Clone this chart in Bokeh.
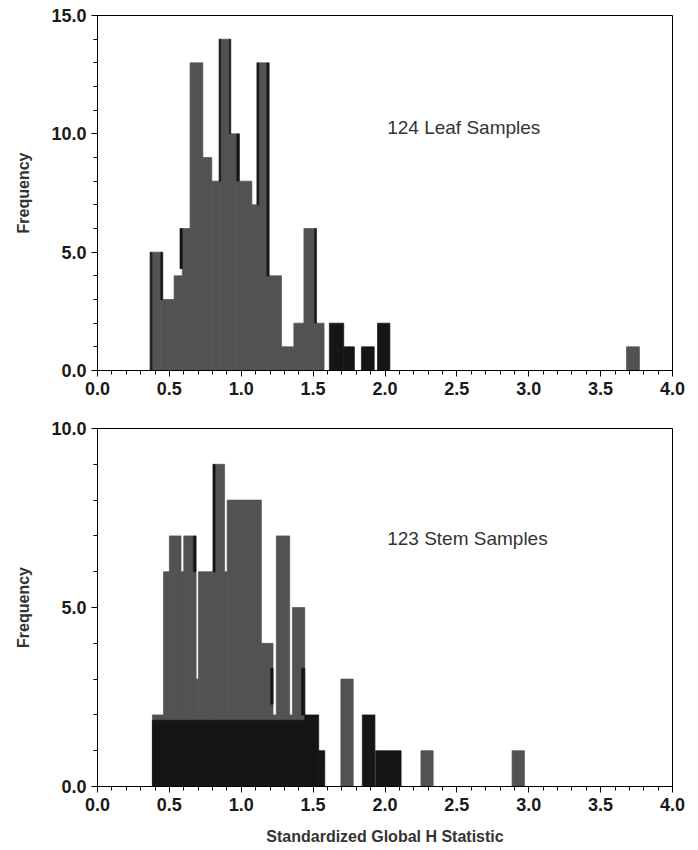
from bokeh.plotting import figure
from bokeh.layouts import column
from bokeh.models import Range1d, SingleIntervalTicker, PrintfTickFormatter, Label
from bokeh.embed import file_html
from bokeh.resources import INLINE

# ---------------- data ----------------
# Leaf samples (top panel): gray histogram bars
leaf_gray_left  = [0.378, 0.44, 0.533, 0.59, 0.644, 0.733, 0.795, 0.857, 0.918, 0.969, 1.074, 1.122, 1.178, 1.28, 1.366, 1.436, 1.511, 3.68]
leaf_gray_right = [0.44, 0.533, 0.59, 0.644, 0.733, 0.795, 0.857, 0.918, 0.969, 1.074, 1.122, 1.178, 1.28, 1.366, 1.436, 1.511, 1.576, 3.77]
leaf_gray_count = [5, 3, 4, 6, 13, 9, 8, 14, 10, 8, 7, 13, 4, 1, 2, 6, 2, 1]
# Leaf samples: black histogram bars (visible parts)
leaf_black_left   = [0.366, 0.44, 0.574, 0.846, 0.918, 0.969, 1.109, 1.178, 1.511, 1.613, 1.713, 1.836, 1.948]
leaf_black_right  = [0.378, 0.454, 0.59, 0.857, 0.927, 0.987, 1.122, 1.194, 1.523, 1.713, 1.787, 1.925, 2.034]
leaf_black_bottom = [0, 3, 4.3, 8, 10, 8, 7, 4, 2, 0, 0, 0, 0]
leaf_black_count  = [5, 5, 6, 14, 14, 10, 13, 13, 6, 2, 1, 1, 2]

# Stem samples (bottom panel): gray histogram bars
stem_gray_left  = [0.382, 0.459, 0.5, 0.6, 0.686, 0.702, 0.819, 0.902, 1.14, 1.244, 1.356, 1.693, 2.25, 2.884]
stem_gray_right = [1.442, 0.686, 0.581, 0.667, 0.702, 0.902, 0.884, 1.14, 1.221, 1.337, 1.442, 1.779, 2.335, 2.97]
stem_gray_count = [2, 6, 7, 7, 3, 6, 9, 8, 4, 7, 5, 3, 1, 1]
# Stem samples: black histogram bars
stem_black_left   = [0.382, 0.667, 0.803, 1.205, 1.42, 1.442, 1.539, 1.842, 1.935]
stem_black_right  = [1.442, 0.686, 0.819, 1.221, 1.442, 1.539, 1.581, 1.93, 2.112]
stem_black_bottom = [0, 6, 6, 2.3, 2, 0, 0, 0, 0]
stem_black_count  = [1.85, 7, 9, 3.3, 3.3, 2, 1, 2, 1]

x_title = "Standardized Global H Statistic"
y_title = "Frequency"
leaf_note = "124 Leaf Samples"
stem_note = "123 Stem Samples"

GRAY = "#525252"
BLACK = "#151515"
FONT = "Liberation Sans"


def make_fig(ymax, height, b_top, b_bottom):
    p = figure(width=688, height=height, x_range=Range1d(0, 4), y_range=Range1d(0, ymax),
               output_backend="svg", toolbar_location=None,
               min_border_left=97, min_border_right=16,
               min_border_top=b_top, min_border_bottom=b_bottom)
    p.xgrid.visible = False
    p.ygrid.visible = False
    p.outline_line_color = "black"
    p.outline_line_width = 1
    p.background_fill_color = "white"
    p.border_fill_color = "white"

    p.xaxis.ticker = SingleIntervalTicker(interval=0.5, num_minor_ticks=5)
    p.yaxis.ticker = SingleIntervalTicker(interval=5, num_minor_ticks=5)
    for ax in (p.xaxis, p.yaxis):
        ax.formatter = PrintfTickFormatter(format="%.1f")
        ax.axis_line_color = "black"
        ax.major_tick_line_color = "black"
        ax.minor_tick_line_color = "black"
        ax.major_tick_out = 6
        ax.major_tick_in = 0
        ax.minor_tick_out = 4
        ax.minor_tick_in = 0
        ax.major_label_text_font = FONT
        ax.major_label_text_font_style = "bold"
        ax.major_label_text_font_size = "18px"
        ax.major_label_text_color = "#1a1a1a"
        ax.major_label_standoff = 5
        ax.axis_label_text_font = FONT
        ax.axis_label_text_font_style = "bold"
        ax.axis_label_text_font_size = "16px"
        ax.axis_label_text_color = "#333333"
    p.yaxis.axis_label = y_title
    p.yaxis.axis_label_standoff = 16
    return p


def bars(p, left, right, bottom, top, color):
    p.quad(left=left, right=right, bottom=bottom, top=top,
           fill_color=color, line_color=color, line_width=0.7)


# ---------------- top panel ----------------
p1 = make_fig(15, 402, 15, 32)
bars(p1, leaf_gray_left, leaf_gray_right, 0, leaf_gray_count, GRAY)
bars(p1, leaf_black_left, leaf_black_right, leaf_black_bottom, leaf_black_count, BLACK)
p1.add_layout(Label(x=2.015, y=10.25, text=leaf_note, text_font=FONT, text_font_size="19px",
                    text_baseline="middle", text_color="#333333"))

# ---------------- bottom panel ----------------
p2 = make_fig(10, 448, 26, 64)
bars(p2, stem_gray_left, stem_gray_right, 0, stem_gray_count, GRAY)
bars(p2, stem_black_left, stem_black_right, stem_black_bottom, stem_black_count, BLACK)
p2.add_layout(Label(x=2.015, y=6.93, text=stem_note, text_font=FONT, text_font_size="19px",
                    text_baseline="middle", text_color="#333333"))
p2.xaxis.axis_label = x_title
p2.xaxis.axis_label_standoff = 14

layout = column(p1, p2)
open("out.html", "w").write(file_html(layout, INLINE))
